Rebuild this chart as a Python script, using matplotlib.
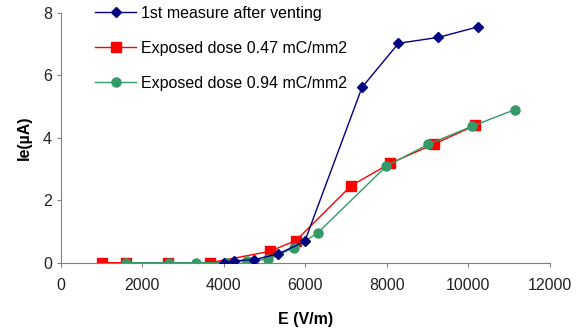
import matplotlib
matplotlib.use("Agg")
import matplotlib.pyplot as plt

plt.rcParams['font.family'] = ['Liberation Sans', 'DejaVu Sans']

# 1st measure after venting
e_vent = [4000, 4250, 4750, 5330, 5985, 7390, 8285, 9265, 10245]
i_vent = [0.0, 0.06, 0.1, 0.28, 0.68, 5.61, 7.02, 7.21, 7.55]

# exposed dose 0.47 mC/mm2
e_047 = [1020, 1610, 2640, 3660, 5120, 5770, 7120, 8080, 9145, 10165]
i_047 = [0.0, 0.0, 0.0, 0.0, 0.36, 0.71, 2.46, 3.18, 3.79, 4.39]

# exposed dose 0.94 mC/mm2
e_094 = [1610, 2645, 3305, 4070, 4575, 5095, 5715, 6300, 7985, 9020, 10080, 11145]
i_094 = [0.0, 0.0, 0.0, 0.0, 0.05, 0.12, 0.47, 0.95, 3.09, 3.79, 4.36, 4.9]

fig = plt.figure(figsize=(5.85, 3.29), dpi=100)
ax = fig.add_axes([0.104, 0.2015, 0.836, 0.76])

ax.plot(e_vent, i_vent, color='#000080', marker='D', markersize=5.5, lw=1,
        label='1st measure after venting', zorder=3)
ax.plot(e_047, i_047, color='#ff0000', marker='s', markersize=6.5, lw=1,
        label='Exposed dose 0.47 mC/mm2', zorder=2)
ax.plot(e_094, i_094, color='#339966', marker='o', markersize=6.5, lw=1,
        label='Exposed dose 0.94 mC/mm2', zorder=2.5)

ax.set_xlim(0, 12000)
ax.set_ylim(0, 8)
ax.set_xticks(range(0, 12001, 2000))
ax.set_yticks(range(0, 9, 2))
for s in ['top', 'right']:
    ax.spines[s].set_visible(False)
for s in ['left', 'bottom']:
    ax.spines[s].set_color('#808080')
    ax.spines[s].set_linewidth(0.8)
ax.tick_params(colors='#808080', labelcolor='#222222', labelsize=11.5, length=3)
ax.tick_params(axis='x', pad=8)

ax.set_xlabel('E (V/m)', fontsize=11.5, fontweight='bold', labelpad=14)
ax.set_ylabel('Ie(\u00b5A)', fontsize=11.5, fontweight='bold', labelpad=8)

fig.legend(loc='upper left', bbox_to_anchor=(0.162, 0.982), frameon=False,
           borderpad=0, borderaxespad=0, fontsize=11.5, handlelength=2.6,
           handletextpad=0.3, labelspacing=1.25)

fig.savefig('out.png', dpi=100)
